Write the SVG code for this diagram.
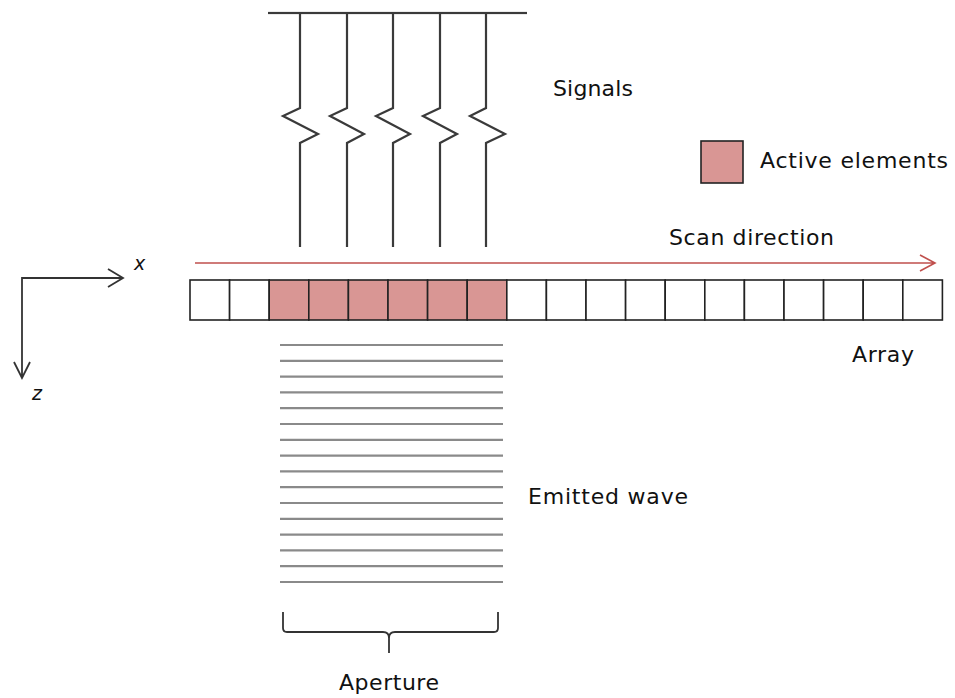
<svg xmlns="http://www.w3.org/2000/svg" width="955" height="698" viewBox="0 0 955 698">
<defs>
<style>
.t{font-family:"DejaVu Sans",Verdana,sans-serif;font-size:22px;fill:#111}
.ax{font-family:"DejaVu Sans",sans-serif;font-size:19px;font-style:italic;fill:#111}
.sig{fill:none;stroke:#3a3a3a;stroke-width:2.2}
.cell{fill:#fff;stroke:#222;stroke-width:1.6}
.act{fill:#d99694;stroke:#222;stroke-width:1.6}
.wave{stroke:#8a8a8a;stroke-width:2.2}
.blk{fill:none;stroke:#333;stroke-width:1.8}
</style>
</defs>
<rect width="955" height="698" fill="#fff"/>
<g id="signals">
<rect x="268" y="11.9" width="259" height="2.2" fill="#3a3a3a"/>
<path class="sig" d="M300,13 V108 L283,116 L318,134 L300,143 V247"/>
<path class="sig" d="M347,13 V108 L330,116 L364,134 L347,143 V247"/>
<path class="sig" d="M393,13 V108 L376,116 L410,134 L393,143 V247"/>
<path class="sig" d="M440,13 V108 L423,116 L457,134 L440,143 V247"/>
<path class="sig" d="M486,13 V108 L470,116 L505,134 L486,143 V247"/>
<text class="t" x="553" y="96" textLength="80">Signals</text>
</g>
<g id="legend">
<rect class="act" x="701" y="141" width="42" height="42"/>
<text class="t" x="760" y="168" textLength="188">Active elements</text>
</g>
<g id="scan">
<text class="t" x="669" y="245" textLength="165">Scan direction</text>
<path d="M195,263 H935 M920,255 L935,263 L920,271" fill="none" stroke="#c0504d" stroke-width="1.6"/>
</g>
<g id="axes">
<path class="blk" d="M123,278 H22 V378 M108,269 L123,278 L108,287 M14,362 L22,378 L30,362"/>
<text class="ax" x="134" y="270">x</text>
<text class="ax" x="32" y="400">z</text>
</g>
<g id="array">
<rect class="cell" x="190" y="280" width="39.6" height="40"/>
<rect class="cell" x="229.6" y="280" width="39.6" height="40"/>
<rect class="act" x="269.2" y="280" width="39.6" height="40"/>
<rect class="act" x="308.8" y="280" width="39.6" height="40"/>
<rect class="act" x="348.4" y="280" width="39.6" height="40"/>
<rect class="act" x="388" y="280" width="39.6" height="40"/>
<rect class="act" x="427.6" y="280" width="39.6" height="40"/>
<rect class="act" x="467.2" y="280" width="39.6" height="40"/>
<rect class="cell" x="506.8" y="280" width="39.6" height="40"/>
<rect class="cell" x="546.4" y="280" width="39.6" height="40"/>
<rect class="cell" x="586" y="280" width="39.6" height="40"/>
<rect class="cell" x="625.6" y="280" width="39.6" height="40"/>
<rect class="cell" x="665.2" y="280" width="39.6" height="40"/>
<rect class="cell" x="704.8" y="280" width="39.6" height="40"/>
<rect class="cell" x="744.4" y="280" width="39.6" height="40"/>
<rect class="cell" x="784" y="280" width="39.6" height="40"/>
<rect class="cell" x="823.6" y="280" width="39.6" height="40"/>
<rect class="cell" x="863.2" y="280" width="39.6" height="40"/>
<rect class="cell" x="902.8" y="280" width="39.6" height="40"/>
<text class="t" x="852" y="362" textLength="62">Array</text>
</g>
<g id="wave">
<line class="wave" x1="280" x2="503" y1="345" y2="345"/>
<line class="wave" x1="280" x2="503" y1="360.8" y2="360.8"/>
<line class="wave" x1="280" x2="503" y1="376.6" y2="376.6"/>
<line class="wave" x1="280" x2="503" y1="392.4" y2="392.4"/>
<line class="wave" x1="280" x2="503" y1="408.2" y2="408.2"/>
<line class="wave" x1="280" x2="503" y1="424" y2="424"/>
<line class="wave" x1="280" x2="503" y1="439.8" y2="439.8"/>
<line class="wave" x1="280" x2="503" y1="455.6" y2="455.6"/>
<line class="wave" x1="280" x2="503" y1="471.4" y2="471.4"/>
<line class="wave" x1="280" x2="503" y1="487.2" y2="487.2"/>
<line class="wave" x1="280" x2="503" y1="503" y2="503"/>
<line class="wave" x1="280" x2="503" y1="518.8" y2="518.8"/>
<line class="wave" x1="280" x2="503" y1="534.6" y2="534.6"/>
<line class="wave" x1="280" x2="503" y1="550.4" y2="550.4"/>
<line class="wave" x1="280" x2="503" y1="566.2" y2="566.2"/>
<line class="wave" x1="280" x2="503" y1="582" y2="582"/>
<text class="t" x="528" y="504" textLength="160">Emitted wave</text>
</g>
<g id="aperture">
<path class="blk" d="M283,612 V628 Q283,632 287,632 H383 Q389,632 389,638 V653 M389,638 Q389,632 395,632 H494 Q498,632 498,628 V612"/>
<text class="t" x="389" y="690" text-anchor="middle" textLength="100">Aperture</text>
</g>
</svg>
